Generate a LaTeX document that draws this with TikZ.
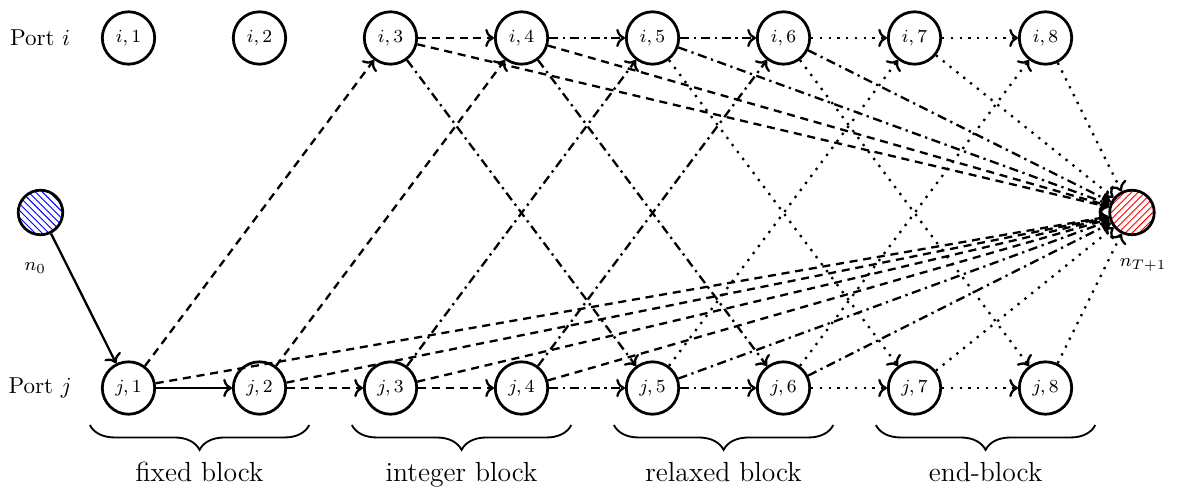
\documentclass[tikz,border=0pt]{standalone}
\usepackage{amsmath,amssymb}
\usepackage{tikz}
\usetikzlibrary{arrows.meta,positioning,patterns,decorations.pathreplacing}

\begin{document}
\begin{tikzpicture}[
  port/.style={circle, draw=black, very thick, minimum size=0.8cm,
    inner sep=0pt, font=\footnotesize},
  term/.style={circle, draw=black, very thick, minimum size=0.68cm, inner sep=0pt},
  fixedarc/.style={->, line width=1pt},
  intarc/.style={->, line width=1pt, dash pattern=on 3.5pt off 2.5pt},
  relarc/.style={->, line width=1pt, dash pattern=on 4pt off 2pt on 1pt off 2pt},
  endarc/.style={->, line width=1pt, dash pattern=on 1pt off 2.8pt},
  blockbrace/.style={thick, decorate, decoration={brace, mirror, amplitude=0.38cm}},
  node distance=2cm, on grid
]
\useasboundingbox (-1.962,-1.527) rectangle (16.038,5.924);
% port j
\node[port] (j1) at (0,0) {$j,1$};
\node[port, right=of j1] (j2) {$j,2$};
\node[port, right=of j2] (j3) {$j,3$};
\node[port, right=of j3] (j4) {$j,4$};
\node[port, right=of j4] (j5) {$j,5$};
\node[port, right=of j5] (j6) {$j,6$};
\node[port, right=of j6] (j7) {$j,7$};
\node[port, right=of j7] (j8) {$j,8$};
% port i
\node[port, above=5.344cm of j1] (i1) {$i,1$};
\node[port, right=of i1] (i2) {$i,2$};
\node[port, right=of i2] (i3) {$i,3$};
\node[port, right=of i3] (i4) {$i,4$};
\node[port, right=of i4] (i5) {$i,5$};
\node[port, right=of i5] (i6) {$i,6$};
\node[port, right=of i6] (i7) {$i,7$};
\node[port, right=of i7] (i8) {$i,8$};
\node[left=1.35cm of i1] (porti) {Port $i$};
\node[left=1.35cm of j1] (portj) {Port $j$};
% source and sink
\node[term, pattern=north west lines, pattern color=blue,
  above left=2.68cm and 1.344cm of j1] (n0) {};
\node[term, pattern=north east lines, pattern color=red,
  above right=2.68cm and 1.32cm of j8] (nT) {};
\node[font=\footnotesize, below left=0.85cm and 0.08cm of n0] (n0lab) {$n_0$};
\node[font=\footnotesize, below right=0.80cm and 0.17cm of nT] (nTlab) {$n_{T+1}$};
% waiting arcs
\draw[fixedarc] (n0) -- (j1);
\draw[fixedarc] (j1) -- (j2);
\draw[intarc] (j2) -- (j3);
\draw[intarc] (j3) -- (j4);
\draw[relarc] (j4) -- (j5);
\draw[relarc] (j5) -- (j6);
\draw[endarc] (j6) -- (j7);
\draw[endarc] (j7) -- (j8);
\draw[intarc] (i3) -- (i4);
\draw[relarc] (i4) -- (i5);
\draw[relarc] (i5) -- (i6);
\draw[endarc] (i6) -- (i7);
\draw[endarc] (i7) -- (i8);
% sailing arcs
\draw[intarc] (j1) -- (i3);
\draw[intarc] (j2) -- (i4);
\draw[relarc] (j3) -- (i5);
\draw[relarc] (j4) -- (i6);
\draw[endarc] (j5) -- (i7);
\draw[endarc] (j6) -- (i8);
\draw[relarc] (i3) -- (j5);
\draw[relarc] (i4) -- (j6);
\draw[endarc] (i5) -- (j7);
\draw[endarc] (i6) -- (j8);
% arcs to sink
\draw[intarc] (i3) -- (nT);
\draw[intarc] (i4) -- (nT);
\draw[relarc] (i5) -- (nT);
\draw[relarc] (i6) -- (nT);
\draw[endarc] (i7) -- (nT);
\draw[endarc] (i8) -- (nT);
\draw[intarc] (j1) -- (nT);
\draw[intarc] (j2) -- (nT);
\draw[intarc] (j3) -- (nT);
\draw[intarc] (j4) -- (nT);
\draw[relarc] (j5) -- (nT);
\draw[relarc] (j6) -- (nT);
\draw[endarc] (j7) -- (nT);
\draw[endarc] (j8) -- (nT);
% blocks
\draw[blockbrace] ([xshift=-0.59cm, yshift=-0.565cm]j1.center) -- ([xshift=0.76cm, yshift=-0.565cm]j2.center)
  node[midway, below=0.44cm, font=\large] (fixlab) {fixed block};
\draw[blockbrace] ([xshift=-0.59cm, yshift=-0.565cm]j3.center) -- ([xshift=0.76cm, yshift=-0.565cm]j4.center)
  node[midway, below=0.44cm, font=\large] (intlab) {integer block};
\draw[blockbrace] ([xshift=-0.59cm, yshift=-0.565cm]j5.center) -- ([xshift=0.76cm, yshift=-0.565cm]j6.center)
  node[midway, below=0.44cm, font=\large] (rellab) {relaxed block};
\draw[blockbrace] ([xshift=-0.59cm, yshift=-0.565cm]j7.center) -- ([xshift=0.76cm, yshift=-0.565cm]j8.center)
  node[midway, below=0.44cm, font=\large] (endlab) {end-block};
\end{tikzpicture}
\end{document}
